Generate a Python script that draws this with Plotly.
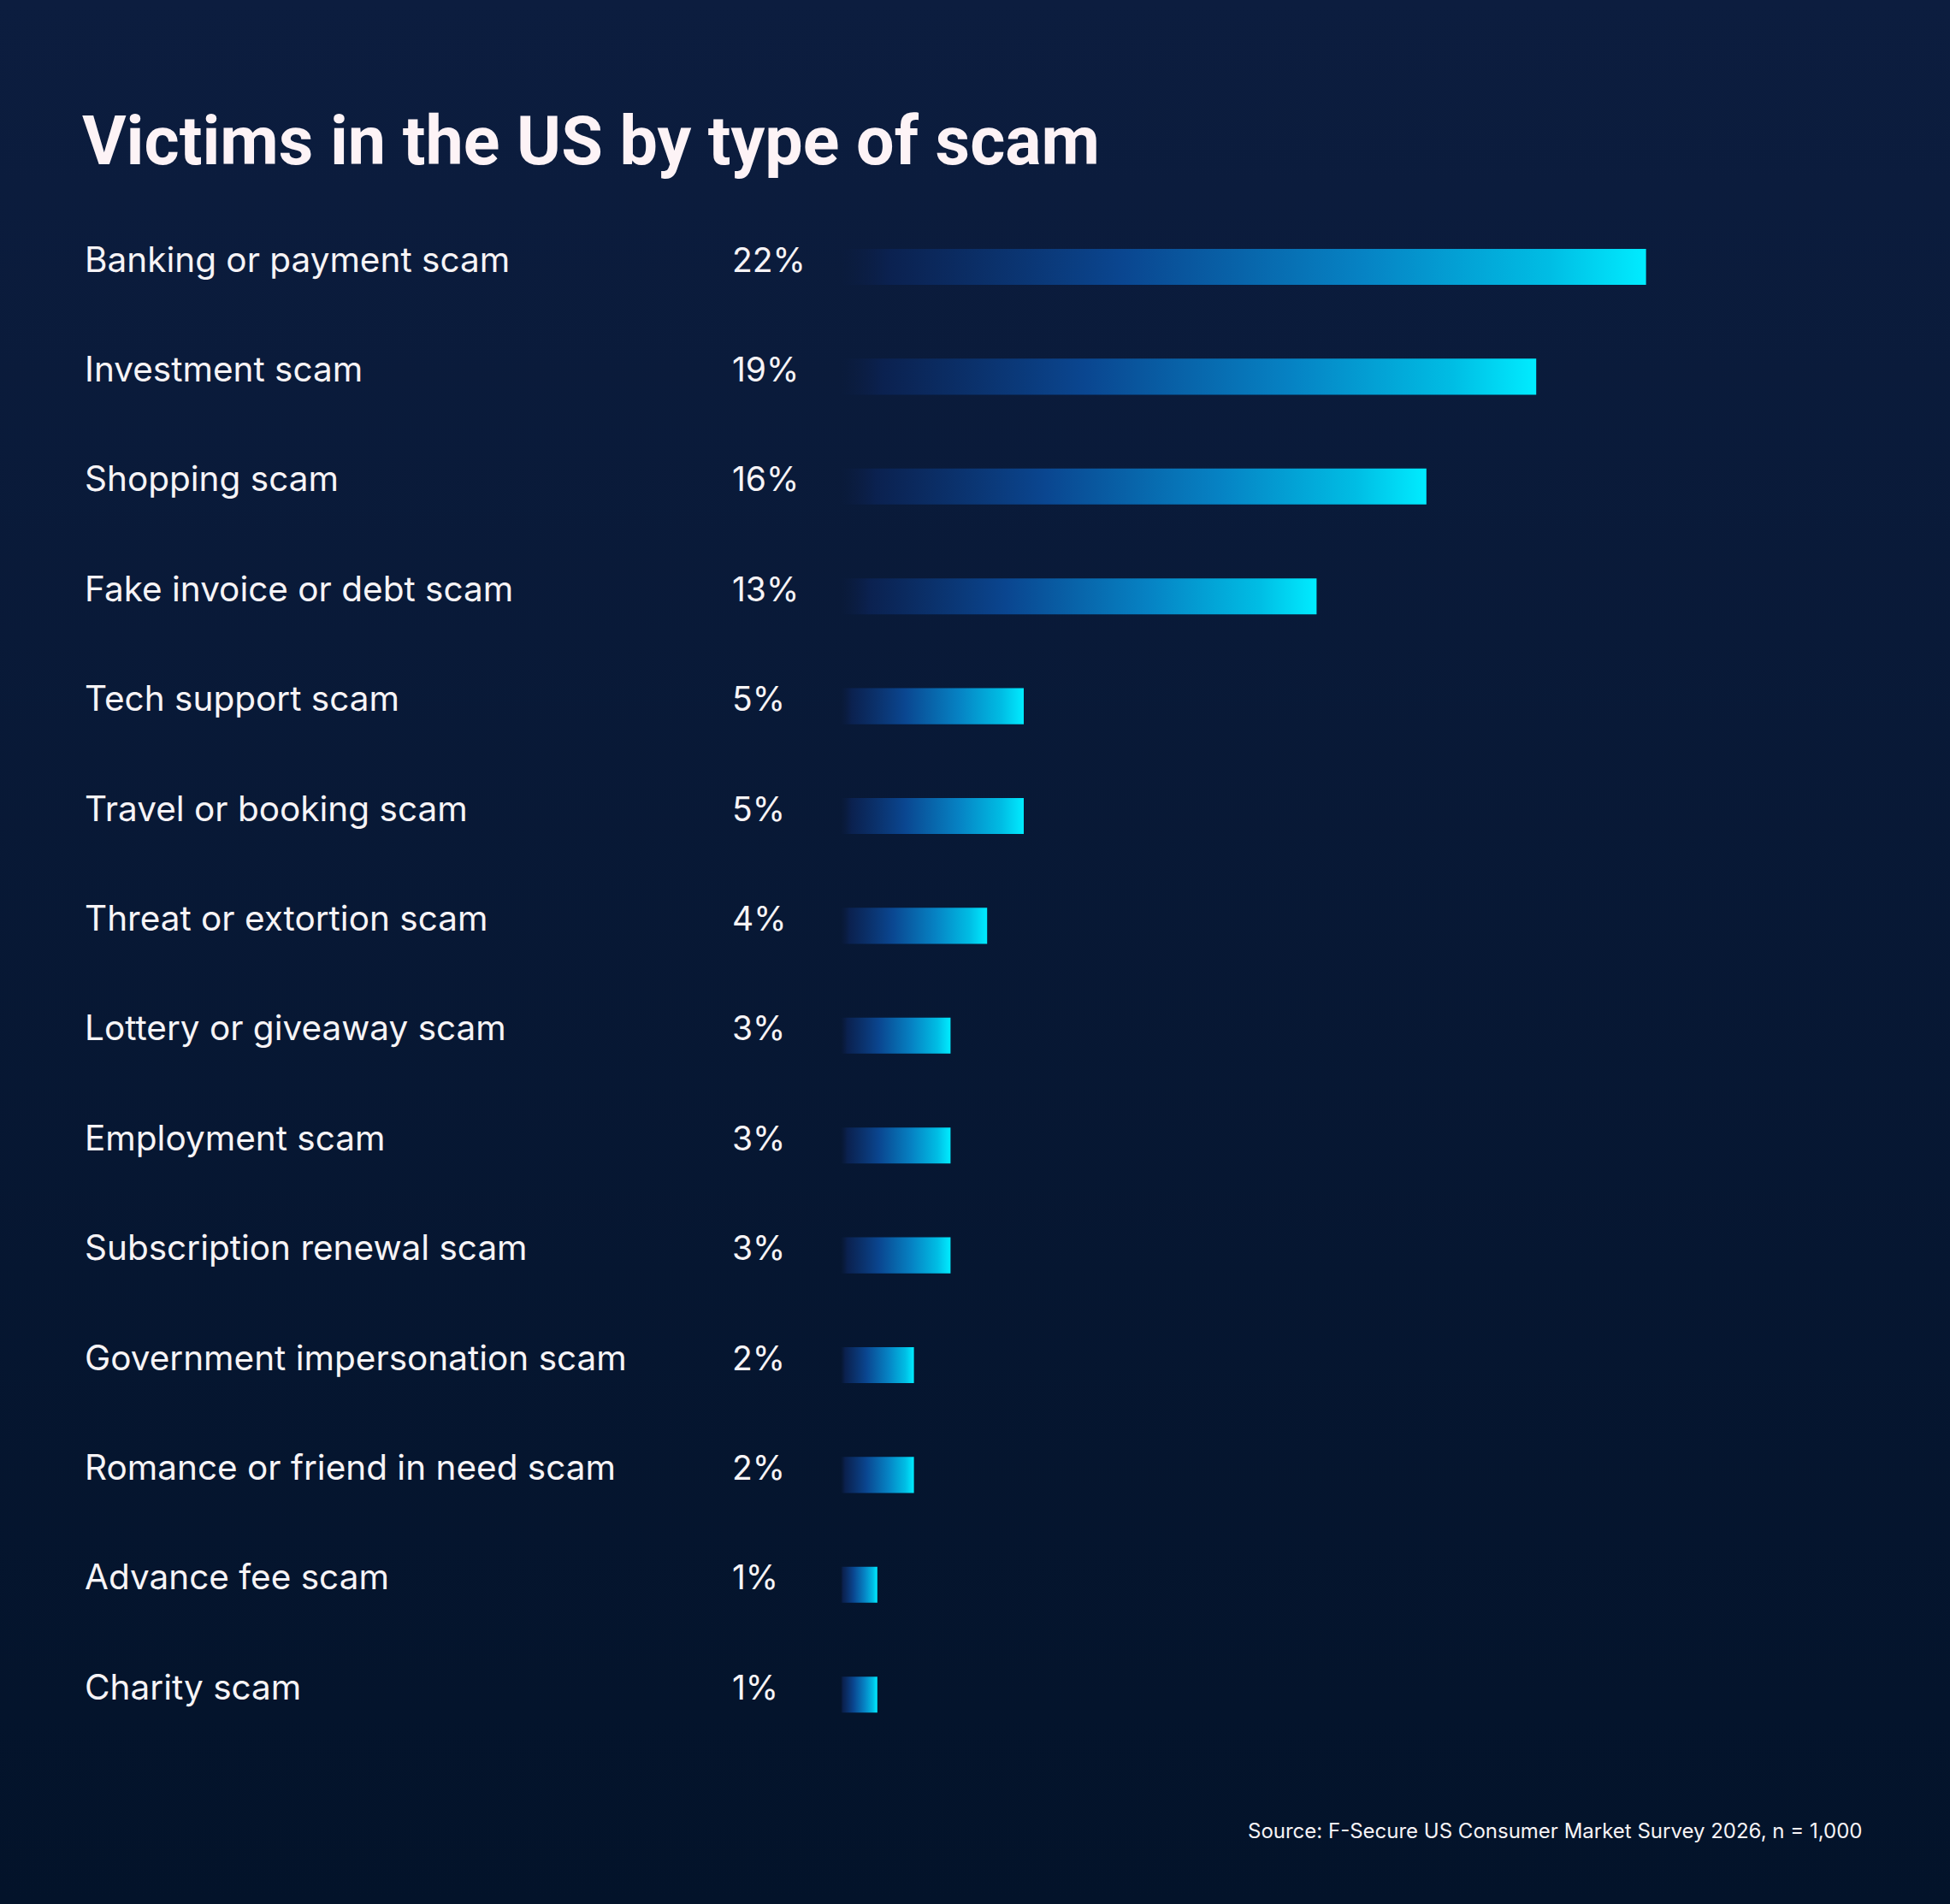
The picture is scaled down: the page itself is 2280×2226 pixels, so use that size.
"""Victims in the US by type of scam - horizontal bar chart with gradient bars"""
import base64
import plotly.graph_objects as go

# data
categories = [
    "Banking or payment scam",
    "Investment scam",
    "Shopping scam",
    "Fake invoice or debt scam",
    "Tech support scam",
    "Travel or booking scam",
    "Threat or extortion scam",
    "Lottery or giveaway scam",
    "Employment scam",
    "Subscription renewal scam",
    "Government impersonation scam",
    "Romance or friend in need scam",
    "Advance fee scam",
    "Charity scam",
]
values = [22, 19, 16, 13, 5, 5, 4, 3, 3, 3, 2, 2, 1, 1]
value_labels = [f"{v}%" for v in values]

title = "Victims in the US by type of scam"
source = "Source: F-Secure US Consumer Market Survey 2026, n = 1,000"

W, H = 2280, 2226
FONT = "Inter"
TEXT = "#f7f4f6"

# background gradient as an svg image
svg = (
    '<svg xmlns="http://www.w3.org/2000/svg" width="100" height="100" preserveAspectRatio="none">'
    '<defs><linearGradient id="g" x1="0" y1="0" x2="0" y2="1">'
    '<stop offset="0" stop-color="#0c1d3f"/><stop offset="1" stop-color="#03132a"/>'
    '</linearGradient></defs><rect width="100" height="100" fill="url(#g)"/></svg>'
)
bg = "data:image/svg+xml;base64," + base64.b64encode(svg.encode()).decode()

bar_scale = [
    [0.0, "rgba(12,30,70,0)"],
    [0.06, "rgba(11,34,82,0.9)"],
    [0.35, "#0a4690"],
    [0.65, "#0683c4"],
    [0.88, "#00bde4"],
    [1.0, "#00ecff"],
]

half = 0.164  # half bar thickness in row units

fig = go.Figure()
for i, v in enumerate(values):
    fig.add_trace(go.Scatter(
        x=[0, v, v, 0, 0],
        y=[i - half, i - half, i + half, i + half, i - half],
        mode="lines",
        line=dict(width=0),
        fill="toself",
        fillgradient=dict(type="horizontal", colorscale=bar_scale),
        hoverinfo="skip",
        showlegend=False,
    ))

annotations = []
for i, (cat, lab) in enumerate(zip(categories, value_labels)):
    annotations.append(dict(
        x=97 / W, xref="paper", y=i, yref="y", yshift=9,
        text=cat, showarrow=False, xanchor="left", yanchor="middle",
        font=dict(family=FONT, size=40.5, color=TEXT),
    ))
    annotations.append(dict(
        x=854 / W, xref="paper", y=i, yref="y", yshift=9,
        text=lab, showarrow=False, xanchor="left", yanchor="middle",
        font=dict(family=FONT, size=39, color=TEXT),
    ))

annotations.append(dict(
    x=94 / W, xref="paper", y=1 - 165 / H, yref="paper",
    text=f"<b>{title}</b>", showarrow=False, xanchor="left", yanchor="middle",
    font=dict(family="Roboto", size=79, color="#fdf3f6"),
))
annotations.append(dict(
    x=2179 / W, xref="paper", y=1 - 2140 / H, yref="paper",
    text=source, showarrow=False, xanchor="right", yanchor="middle",
    font=dict(family=FONT, size=24, color=TEXT),
))

x0_px, px_per = 983, 42.8
row0_px, row_px = 312, 128.4

fig.update_layout(
    width=W, height=H,
    margin=dict(l=0, r=0, t=0, b=0),
    paper_bgcolor="#07182f",
    plot_bgcolor="rgba(0,0,0,0)",
    xaxis=dict(range=[-x0_px / px_per, (W - x0_px) / px_per], visible=False, fixedrange=True),
    yaxis=dict(range=[(H - row0_px) / row_px, -row0_px / row_px], visible=False, fixedrange=True),
    images=[dict(source=bg, xref="paper", yref="paper", x=0, y=1, sizex=1, sizey=1,
                 xanchor="left", yanchor="top", sizing="stretch", layer="below")],
    annotations=annotations,
)

fig.write_html("out.html", config={"displayModeBar": False},
               post_script="document.body.style.margin='0';")
